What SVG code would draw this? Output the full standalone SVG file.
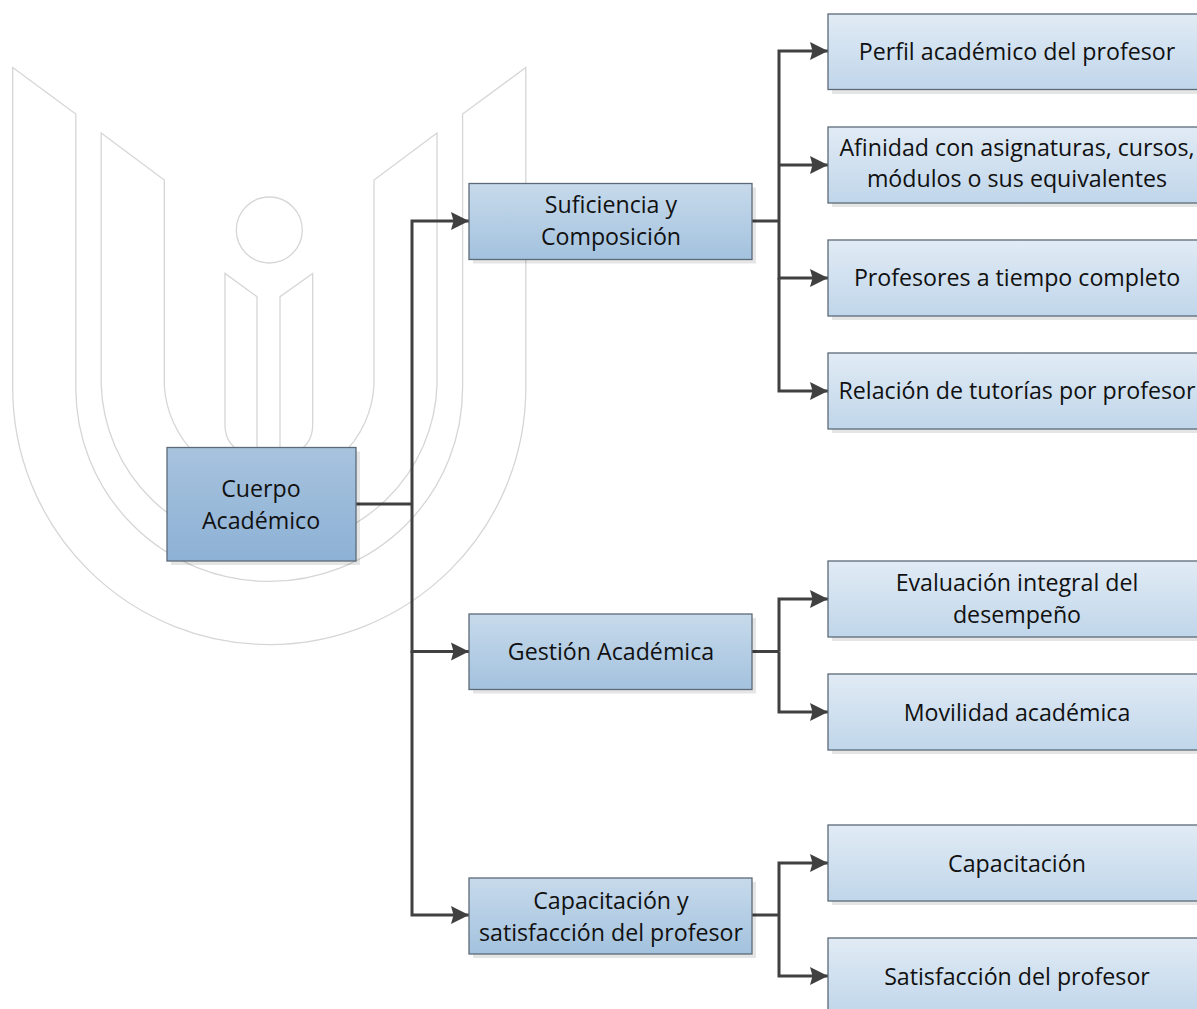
<svg xmlns="http://www.w3.org/2000/svg" width="1197" height="1009" viewBox="0 0 1197 1009">
<style>
.logo{fill:none;stroke:#d6d6d6;stroke-width:1.3}
.c{fill:none;stroke:#404040;stroke-width:3}
.box{stroke:#5c6a78;stroke-width:1.3}
.sh{fill:#000;opacity:.1}
.l1{fill:url(#g1)}.l2{fill:url(#g2)}.l3{fill:url(#g3)}
text{font-family:"Open Sans","Noto Sans",sans-serif;font-size:23.2px;fill:#111;text-anchor:middle}
</style>
<defs>
<linearGradient id="g1" x1="0" y1="0" x2="0" y2="1"><stop offset="0" stop-color="#a7c3de"/><stop offset="1" stop-color="#8db1d5"/></linearGradient>
<linearGradient id="g2" x1="0" y1="0" x2="0" y2="1"><stop offset="0" stop-color="#c7daeb"/><stop offset="1" stop-color="#a3c2de"/></linearGradient>
<linearGradient id="g3" x1="0" y1="0" x2="0" y2="1"><stop offset="0" stop-color="#e1ebf5"/><stop offset="1" stop-color="#c0d6ea"/></linearGradient>
<marker id="a" markerUnits="userSpaceOnUse" markerWidth="19" markerHeight="19" refX="18.500" refY="9.500" orient="auto"><path d="M0.500 0.500L18.500 9.500L0.500 18.500L3 9.500Z" fill="#404040"/></marker>
</defs>
<g id="logo">
<path class="logo" d="M12.7 67.5L75.8 114V388A193.4 193.4 0 0 0 462.6 388V114L525.8 67.5V388A256.5 256.5 0 0 1 12.7 388Z"/>
<path class="logo" d="M101.2 133L164.3 180V385A105 105 0 0 0 374 385V180L437 133V385A168 168 0 0 1 101.2 385Z"/>
<circle class="logo" cx="269.3" cy="230" r="33"/>
<path class="logo" d="M225 273.4L257 296.7V460H280V296.7L312.7 273.4V425Q312.7 447 290 455H248Q225 447 225 425Z"/>
</g>
<g id="connectors">
<path class="c" d="M356 504H412"/>
<path class="c" d="M412 504V221H469" marker-end="url(#a)"/>
<path class="c" d="M412 504V651.5H469" marker-end="url(#a)"/>
<path class="c" d="M412 651V915H469" marker-end="url(#a)"/>
<path class="c" d="M752 221H779"/>
<path class="c" d="M779 221V51H828" marker-end="url(#a)"/>
<path class="c" d="M779 165H828" marker-end="url(#a)"/>
<path class="c" d="M779 221V278H828" marker-end="url(#a)"/>
<path class="c" d="M779 278V391H828" marker-end="url(#a)"/>
<path class="c" d="M752 651.5H779"/>
<path class="c" d="M779 651.5V599H828" marker-end="url(#a)"/>
<path class="c" d="M779 651.5V712H828" marker-end="url(#a)"/>
<path class="c" d="M752 915H779"/>
<path class="c" d="M779 915V863H828" marker-end="url(#a)"/>
<path class="c" d="M779 915V976H828" marker-end="url(#a)"/>
</g>
<g id="cuerpo"><rect class="sh" x="171" y="451.500" width="189" height="113.500"/><rect class="box l1" x="167" y="447.500" width="189" height="113.500"/><text x="261" y="497">Cuerpo</text><text x="261" y="529">Académico</text></g>
<g id="suficiencia"><rect class="sh" x="473" y="187.500" width="283" height="76"/><rect class="box l2" x="469" y="183.500" width="283" height="76"/><text x="611" y="213">Suficiencia y</text><text x="611" y="245">Composición</text></g>
<g id="gestion"><rect class="sh" x="473" y="618" width="283" height="75.500"/><rect class="box l2" x="469" y="614" width="283" height="75.500"/><text x="611" y="660">Gestión Académica</text></g>
<g id="capacitacion-satisfaccion"><rect class="sh" x="473" y="882" width="283" height="76"/><rect class="box l2" x="469" y="878" width="283" height="76"/><text x="611" y="909">Capacitación y</text><text x="611" y="941">satisfacción del profesor</text></g>
<g id="perfil"><rect class="sh" x="832" y="18" width="369" height="76"/><rect class="box l3" x="828" y="14" width="372" height="75.500"/><text x="1017" y="60">Perfil académico del profesor</text></g>
<g id="afinidad"><rect class="sh" x="832" y="131" width="369" height="76"/><rect class="box l3" x="828" y="127" width="372" height="76"/><text x="1017" y="156">Afinidad con asignaturas, cursos,</text><text x="1017" y="187">módulos o sus equivalentes</text></g>
<g id="tiempo-completo"><rect class="sh" x="832" y="244" width="369" height="76"/><rect class="box l3" x="828" y="240" width="372" height="76"/><text x="1017" y="286">Profesores a tiempo completo</text></g>
<g id="tutorias"><rect class="sh" x="832" y="357" width="369" height="76"/><rect class="box l3" x="828" y="353" width="372" height="76"/><text x="1017" y="399">Relación de tutorías por profesor</text></g>
<g id="evaluacion"><rect class="sh" x="832" y="565" width="369" height="76"/><rect class="box l3" x="828" y="561" width="372" height="76"/><text x="1017" y="591">Evaluación integral del</text><text x="1017" y="623">desempeño</text></g>
<g id="movilidad"><rect class="sh" x="832" y="678" width="369" height="76"/><rect class="box l3" x="828" y="674" width="372" height="76"/><text x="1017" y="721">Movilidad académica</text></g>
<g id="capacitacion"><rect class="sh" x="832" y="829" width="369" height="76"/><rect class="box l3" x="828" y="825" width="372" height="76"/><text x="1017" y="872">Capacitación</text></g>
<g id="satisfaccion"><rect class="sh" x="832" y="942" width="369" height="76"/><rect class="box l3" x="828" y="938" width="372" height="76"/><text x="1017" y="985">Satisfacción del profesor</text></g>
</svg>
